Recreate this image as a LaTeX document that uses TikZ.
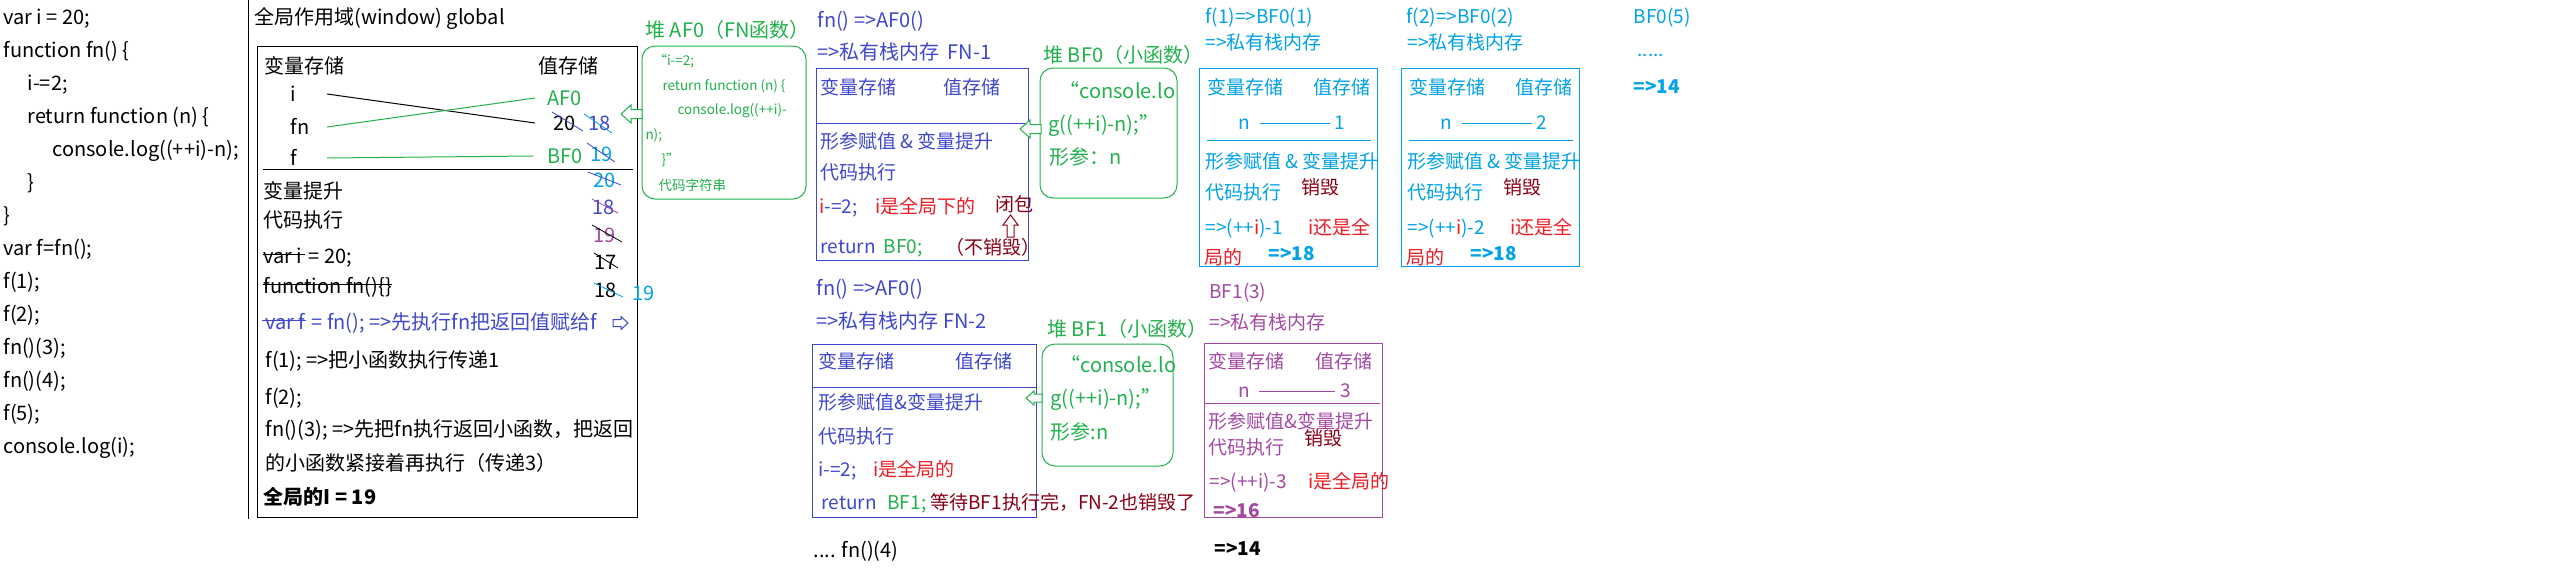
\documentclass[tikz,border=0pt]{standalone}
\usepackage{fontspec}
\setmainfont{Noto Sans CJK SC}
\definecolor{pgreen}{HTML}{22B14C}
\definecolor{pblue}{HTML}{3F48CC}
\definecolor{pcyan}{HTML}{00A2E8}
\definecolor{ppurple}{HTML}{A349A4}
\definecolor{pdred}{HTML}{880015}
\definecolor{pred}{HTML}{ED1C24}
\newcommand\myfs[1]{\fontsize{#1}{#1}\selectfont}
\begin{document}
\begin{tikzpicture}[x=1pt,y=-1pt,line width=1pt,
  T/.style={anchor=west,inner sep=0pt,font=\myfs{20},text height=15pt,text depth=1pt},
  B/.style={anchor=west,inner sep=0pt,font=\myfs{19},text height=14pt,text depth=1pt},
  TS/.style={anchor=west,inner sep=0pt,font=\myfs{13.5},text height=10pt,text depth=0.7pt},
  heapbox/.style={draw=pgreen,rounded corners=13pt,inner sep=0pt,line width=1pt},
  strike/.style={line width=0.8pt},
  barrowL/.pic={\draw[fill=white,line width=1pt] (0,0) -- (10,-9) -- (10,-4.5) -- (21,-4.5) -- (21,4.5) -- (10,4.5) -- (10,9) -- cycle;},
  barrowLs/.pic={\draw[fill=white,line width=1pt] (0,0) -- (8,-7) -- (8,-4) -- (16,-4) -- (16,4) -- (8,4) -- (8,7) -- cycle;},
  barrowR/.pic={\draw[fill=white,line width=1pt] (0,0) -- (-7,-6.5) -- (-7,-3.5) -- (-15,-3.5) -- (-15,3.5) -- (-7,3.5) -- (-7,6.5) -- cycle;},
  barrowU/.pic={\draw[fill=white,line width=1pt] (0,0) -- (-7.5,10) -- (-3.5,10) -- (-3.5,22) -- (3.5,22) -- (3.5,10) -- (7.5,10) -- cycle;}
]
\useasboundingbox[fill=white] (0,0) rectangle (2576,576);

% ---------- source code ----------
\node[T] (c1) at (3,17) {var i = 20;};
\node[T] (c2) at (3,50) {function fn() \{};
\node[T] (c3) at (27,83) {i-=2;};
\node[T] (c4) at (27,116) {return function (n) \{};
\node[T] (c5) at (52,149) {console.log((++i)-n);};
\node[T] (c6) at (27,182) {\}};
\node[T] (c7) at (3,215) {\}};
\node[T] (c8) at (3,248) {var f=fn();};
\node[T] (c9) at (3,281) {f(1);};
\node[T] (c10) at (3,314) {f(2);};
\node[T] (c11) at (3,347) {fn()(3);};
\node[T] (c12) at (3,380) {fn()(4);};
\node[T] (c13) at (3,413) {f(5);};
\node[T] (c14) at (3,446) {console.log(i);};

\draw (248,0) -- (248,519);

% ---------- global scope ----------
\node[T] (gt) at (254,17) {全局作用域(window) global};
\draw (257,46) rectangle (637,517);
\node[T] (g1) at (264,66) {变量存储};
\node[T] (g2) at (538,66) {值存储};
\node[T] (vi) at (290,94) {i};
\node[T] (vfn) at (290,127) {fn};
\node[T] (vf) at (290,158) {f};
\node[T,pgreen] (af0) at (547,98) {AF0};
\node[T] (n20) at (553,123) {20};
\node[T,pblue] (n18a) at (588,123) {18};
\node[T,pgreen] (bf0) at (547,156) {BF0};
\node[T,pcyan] (n19a) at (590,154) {19};
\draw (327,0 |- vi.east) -- (535,0 |- n20.west);
\draw[pgreen] (327,0 |- vfn.east) -- (535,0 |- af0.west);
\draw[pgreen] (327,0 |- vf.east) -- (533,0 |- bf0.west);
\draw[strike,pblue] (552,112) -- (583,131);
\draw[strike,pcyan] (584,114) -- (612,133);
\draw[strike,pblue] (587,143) -- (615,162);
\draw (263,169) -- (633,169);

\node[T] (hs) at (263,191) {变量提升};
\node[T] (ce) at (263,220) {代码执行};
\node[T] (vari) at (263,256) {var i};
\node[T,xshift=5pt] (eq20) at (vari.east) {= 20;};
\draw ([yshift=2pt]vari.west) -- ([yshift=2pt,xshift=2pt]vari.east);
\node[T] (fnfn) at (263,286) {function fn()\{\}};
\draw ([yshift=2pt]fnfn.west) -- ([yshift=2pt]fnfn.east);
\node[T,pblue] (varf) at (265,322) {var f};
\node[T,pblue,xshift=5pt] (varfr) at (varf.east) {= fn(); =>先执行fn把返回值赋给f};
\draw[pblue] ([yshift=2pt,xshift=-3pt]varf.west) -- ([yshift=2pt]varf.east);
\pic[pblue] at (628,323) {barrowR};
\node[T] (f1) at (265,360) {f(1); =>把小函数执行传递1};
\node[T] (f2) at (265,397) {f(2);};
\node[T] (f3) at (265,429) {fn()(3); =>先把fn执行返回小函数，把返回};
\node[T] (f3b) at (265,463) {的小函数紧接着再执行（传递3）};
\node[T,font=\myfs{20}\bfseries] (gi) at (263,497) {全局的I = 19};

\node[T,pcyan] (m20b) at (593,180) {20};
\draw[strike,pblue] (588,172) -- (621,185);
\node[T,pblue] (m18b) at (592,207) {18};
\draw[strike,ppurple] (592,199) -- (618,213);
\node[T,ppurple] (m19b) at (593,235) {19};
\draw[strike] (592,225) -- (622,242);
\node[T] (m17) at (594,262) {17};
\draw[strike] (594,253) -- (618,268);
\node[T] (m18c) at (594,290) {18};
\draw[strike,pcyan] (594,283) -- (623,297);
\node[T,pcyan] (m19c) at (632,293) {19};

% ---------- heap AF0 ----------
\node[T,pgreen] (hAFt) at (645,30) {堆 AF0（FN函数）};
\node[heapbox,minimum width=164pt,minimum height=153pt] (heapA) at (724,122.5) {};
\node[TS,pgreen] at (653,61) {“i-=2;};
\node[TS,pgreen] at (662,86) {return function (n) \{};
\node[TS,pgreen] at (677,110) {console.log((++i)-};
\node[TS,pgreen] at (645,135) {n);};
\node[TS,pgreen] at (661,160) {\}”};
\node[TS,pgreen] at (658,186) {代码字符串};
\pic[pgreen] at (621,114) {barrowL};

% ---------- FN-1 ----------
\node[T,pblue] (fn1a) at (817,20) {fn() =>AF0()};
\node[T,pblue] (fn1b) at (817,52) {=>私有栈内存\hspace{8pt}FN-1};
\draw[pblue] (816,68) rectangle (1028,260);
\node[B,pblue] at (820,88) {变量存储};
\node[B,pblue] at (943,88) {值存储};
\draw[pblue] (816,123) -- (1028,123);
\node[B,pblue] at (820,142) {形参赋值 \& 变量提升};
\node[B,pblue] at (820,173) {代码执行};
\node[B,pblue] at (819,207) {\textcolor{pred}{i}-=2;};
\node[B,pred] at (875,207) {i是全局下的};
\node[B,pdred] (bibao) at (995,205) {闭包};
\pic[pdred] at (1010.5,215) {barrowU};
\node[B,pblue] at (820,247) {return\hspace{8pt}\textcolor{pgreen}{BF0;}};
\node[B,pdred] at (945,248) {（不销毁）};

% ---------- heap BF0 ----------
\node[T,pgreen] at (1043,55) {堆 BF0（小函数）};
\node[heapbox,minimum width=137pt,minimum height=130pt] (heapB0) at (1108.5,133) {};
\node[T,pgreen] at (1059,91) {“console.lo};
\node[T,pgreen] at (1048,124) {g((++i)-n);”};
\node[T,pgreen] at (1049,157) {形参：n};
\pic[pgreen] at (1020,129) {barrowL};

% ---------- f(1) ----------
\node[B,pcyan] at (1205,17) {f(1)=>BF0(1)};
\node[B,pcyan] at (1205,43) {=>私有栈内存};
\draw[pcyan] (1199,68) rectangle (1377,266);
\node[B,pcyan] at (1207,88) {变量存储};
\node[B,pcyan] at (1313,88) {值存储};
\node[B,pcyan] (na1) at (1238,123) {n};
\node[B,pcyan] (va1) at (1334,123) {1};
\draw[pcyan] (1260,0 |- na1.east) -- (1330,0 |- va1.west);
\draw[pcyan] (1207,140) -- (1371,140);
\node[B,pcyan] at (1205,162) {形参赋值 \& 变量提升};
\node[B,pcyan] at (1205,193) {代码执行};
\node[B,pdred] at (1301,188) {销毁};
\node[B,pcyan] at (1205,228) {=>(++\textcolor{pred}{i})-1};
\node[B,pred] at (1308,228) {i还是全};
\node[B,pred] at (1204,258) {局的};
\node[B,pcyan,font=\myfs{19}\bfseries] at (1268,254) {=>18};

% ---------- f(2) ----------
\node[B,pcyan] at (1406,17) {f(2)=>BF0(2)};
\node[B,pcyan] at (1407,43) {=>私有栈内存};
\draw[pcyan] (1401,68) rectangle (1579,266);
\node[B,pcyan] at (1409,88) {变量存储};
\node[B,pcyan] at (1515,88) {值存储};
\node[B,pcyan] (na2) at (1440,123) {n};
\node[B,pcyan] (va2) at (1536,123) {2};
\draw[pcyan] (1462,0 |- na2.east) -- (1532,0 |- va2.west);
\draw[pcyan] (1409,140) -- (1573,140);
\node[B,pcyan] at (1407,162) {形参赋值 \& 变量提升};
\node[B,pcyan] at (1407,193) {代码执行};
\node[B,pdred] at (1503,188) {销毁};
\node[B,pcyan] at (1407,228) {=>(++\textcolor{pred}{i})-2};
\node[B,pred] at (1510,228) {i还是全};
\node[B,pred] at (1406,258) {局的};
\node[B,pcyan,font=\myfs{19}\bfseries] at (1470,254) {=>18};

% ---------- BF0(5) ----------
\node[B,pcyan] at (1633,17) {BF0(5)};
\node[B,pcyan] at (1637,50) {.....};
\node[B,pcyan,font=\myfs{19}\bfseries] at (1633,87) {=>14};

% ---------- FN-2 ----------
\node[T,pblue] at (816,288) {fn() =>AF0()};
\node[T,pblue] at (816,321) {=>私有栈内存 FN-2};
\draw[pblue] (812,344) rectangle (1036,517);
\node[B,pblue] at (818,362) {变量存储};
\node[B,pblue] at (955,362) {值存储};
\draw[pblue] (812,387) -- (1036,387);
\node[B,pblue] at (818,403) {形参赋值\&变量提升};
\node[B,pblue] at (818,437) {代码执行};
\node[B,pblue] at (818,470) {i-=2;};
\node[B,pred] at (873,470) {i是全局的};
\node[B,pblue] at (821,503) {return};
\node[B,pgreen] at (887,503) {BF1;};
\node[B,pdred] at (930,503) {等待BF1执行完，FN-2也销毁了};
\node[T] at (813,550) {.... fn()(4)};

% ---------- heap BF1 ----------
\node[T,pgreen] at (1047,329) {堆 BF1（小函数）};
\node[heapbox,minimum width=131pt,minimum height=122pt] (heapB1) at (1107.5,405) {};
\node[T,pgreen] at (1060,365) {“console.lo};
\node[T,pgreen] at (1050,398) {g((++i)-n);”};
\node[T,pgreen] at (1050,432) {形参:n};
\pic[pgreen] at (1026,398) {barrowLs};

% ---------- BF1(3) ----------
\node[B,ppurple] at (1209,292) {BF1(3)};
\node[B,ppurple] at (1209,323) {=>私有栈内存};
\draw[ppurple] (1204,343) rectangle (1382,517);
\node[B,ppurple] at (1208,362) {变量存储};
\node[B,ppurple] at (1315,362) {值存储};
\node[B,ppurple] (na3) at (1238,391) {n};
\node[B,ppurple] (va3) at (1340,391) {3};
\draw[ppurple] (1259,0 |- na3.east) -- (1335,0 |- va3.west);
\draw[ppurple] (1204,403) -- (1380,403);
\node[B,ppurple] at (1208,422) {形参赋值\&变量提升};
\node[B,ppurple] at (1208,448) {代码执行};
\node[B,pdred] at (1304,439) {销毁};
\node[B,ppurple] at (1209,482) {=>(++i)-3};
\node[B,pred] at (1308,482) {i是全局的};
\node[B,ppurple,font=\myfs{19}\bfseries] at (1213,511) {=>16};
\node[B,font=\myfs{19}\bfseries] at (1214,549) {=>14};
\end{tikzpicture}
\end{document}
